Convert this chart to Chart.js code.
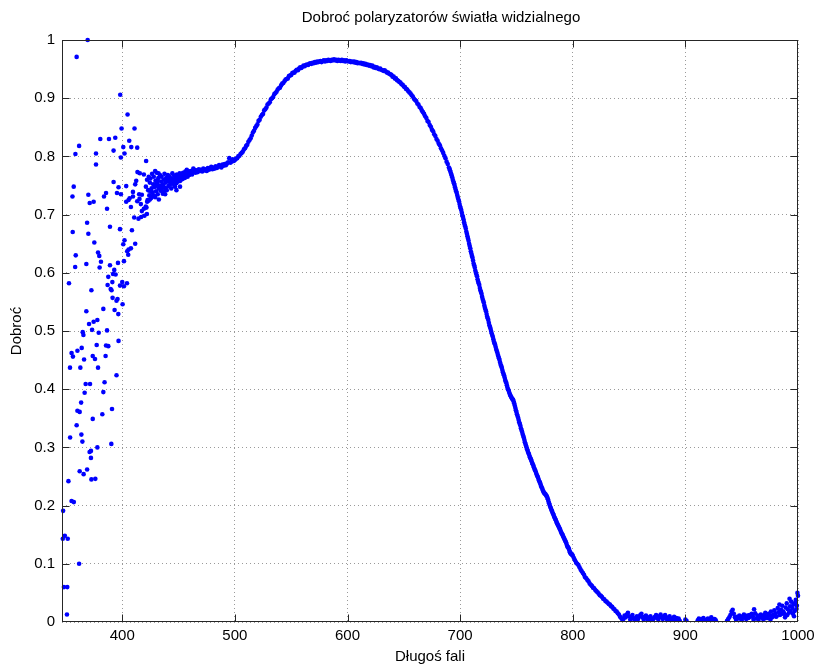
<!DOCTYPE html>
<html>
<head>
<meta charset="utf-8">
<script src="https://cdn.jsdelivr.net/npm/chart.js@4.4.0/dist/chart.umd.min.js"></script>
<style>
  html, body { margin: 0; padding: 0; background: #ffffff; }
  #wrap { width: 814px; height: 664px; }
</style>
</head>
<body>
<div id="wrap"><canvas id="c" width="814" height="664"></canvas></div>
<script>
// Labels
const chartTitle = 'Dobroć polaryzatorów światła widzialnego';
const xTitle = 'Długoś fali';
const yTitle = 'Dobroć';

// Axis ticks
const xTicks = [400, 500, 600, 700, 800, 900, 1000];
const yTicks = [0, 0.1, 0.2, 0.3, 0.4, 0.5, 0.6, 0.7, 0.8, 0.9, 1];
const yTickLabels = ['0', '0.1', '0.2', '0.3', '0.4', '0.5', '0.6', '0.7', '0.8', '0.9', '1'];

// Short-wavelength region: noisy measurements (nm, quality)
const noisyWl = [
  347.2, 347.5, 348.2, 349.0, 350.9, 351.2, 351.6, 352.2, 352.7, 353.6,
  353.7, 355.0, 355.0, 355.8, 356.0, 356.2, 356.9, 357.0, 358.2, 358.4,
  358.7, 359.5, 359.5, 360.2, 360.2, 361.7, 361.7, 362.2, 362.2, 362.8,
  363.5, 363.7, 364.0, 364.6, 364.9, 365.5, 365.7, 366.1, 366.6, 367.5,
  368.1, 368.1, 368.8, 368.8, 369.3, 369.9, 369.9, 370.5, 371.0, 371.1,
  371.4, 372.2, 372.2, 372.6, 372.6, 373.2, 373.8, 373.8, 374.6, 374.6,
  375.2, 375.8, 376.1, 376.7, 376.7, 377.3, 377.9, 377.9, 378.5, 378.5,
  379.1, 379.6, 379.9, 380.5, 381.1, 382.3, 383.2, 383.2, 383.8, 384.3,
  385.2, 385.6, 385.6, 386.5, 386.5, 387.0, 387.6, 387.6, 388.2, 389.1,
  389.1, 389.7, 390.3, 390.5, 390.9, 391.2, 391.4, 391.8, 392.3, 392.3,
  392.9, 393.2, 393.8, 394.1, 394.9, 394.9, 395.3, 395.8, 396.2, 396.5,
  396.7, 396.7, 398.0, 398.0, 398.2, 398.8, 398.8, 399.4, 400.0, 400.3,
  400.9, 400.9, 401.5, 401.5, 402.0, 402.0, 403.5, 403.5, 404.2, 404.4,
  404.7, 405.3, 405.6, 405.6, 406.2, 406.5, 407.7, 407.7, 408.0, 408.6,
  409.5, 409.5, 410.6, 410.9, 411.5, 411.5, 412.4, 413.3, 413.3, 413.5,
  414.4, 415.0, 415.3, 415.6, 416.5, 416.8, 417.4, 417.4, 419.2, 419.2,
  419.7, 420.9, 421.2, 421.9, 422.1, 423.3, 424.2, 424.5, 426.3, 426.3,
  428.6, 429.2, 429.2, 430.4, 431.3, 432.2, 432.5, 434.8, 436.0, 436.6,
  438.1, 438.1, 442.5, 444.0, 445.4, 446.9, 448.1, 449.8, 451.3, 452.8,
  455.8, 457.3, 460.2, 463.1
];
const noisyQ = [
  0.143, 0.191, 0.060, 0.148, 0.013, 0.060, 0.143, 0.242, 0.582, 0.437,
  0.317, 0.208, 0.462, 0.731, 0.670, 0.456, 0.748, 0.206, 0.610, 0.804,
  0.630, 0.338, 0.971, 0.363, 0.466, 0.100, 0.818, 0.259, 0.361, 0.437,
  0.377, 0.322, 0.471, 0.310, 0.498, 0.493, 0.254, 0.451, 0.394, 0.409,
  0.534, 0.615, 0.262, 0.686, 1.000, 0.667, 0.734, 0.512, 0.292, 0.720,
  0.409, 0.282, 0.294, 0.245, 0.570, 0.502, 0.349, 0.457, 0.516, 0.722,
  0.652, 0.452, 0.246, 0.786, 0.805, 0.476, 0.300, 0.519, 0.437, 0.635,
  0.497, 0.629, 0.609, 0.830, 0.619, 0.357, 0.395, 0.538, 0.731, 0.412,
  0.457, 0.475, 0.737, 0.501, 0.710, 0.579, 0.474, 0.593, 0.830, 0.613,
  0.679, 0.572, 0.306, 0.570, 0.366, 0.584, 0.557, 0.598, 0.756, 0.810,
  0.605, 0.536, 0.832, 0.597, 0.424, 0.552, 0.737, 0.555, 0.617, 0.529,
  0.483, 0.747, 0.578, 0.675, 0.906, 0.735, 0.798, 0.848, 0.584, 0.546,
  0.649, 0.816, 0.577, 0.620, 0.656, 0.805, 0.722, 0.749, 0.582, 0.637,
  0.872, 0.631, 0.640, 0.725, 0.827, 0.728, 0.642, 0.713, 0.816, 0.673,
  0.731, 0.739, 0.695, 0.848, 0.650, 0.752, 0.758, 0.723, 0.815, 0.773,
  0.693, 0.735, 0.727, 0.771, 0.718, 0.696, 0.706, 0.734, 0.710, 0.769,
  0.698, 0.714, 0.792, 0.701, 0.722, 0.724, 0.741, 0.726, 0.739, 0.731,
  0.748, 0.730, 0.775, 0.751, 0.759, 0.771, 0.726, 0.743, 0.736, 0.748,
  0.742, 0.735, 0.759, 0.757, 0.754, 0.748, 0.742, 0.765, 0.748, 0.768,
  0.771, 0.777, 0.774, 0.779
];

// Rising band 421-500 nm
const bandWl = [
  421, 421.5, 422, 422.5, 423, 423.5, 424, 424.5, 425, 425.5,
  426, 426.5, 427, 427.5, 428, 428.5, 429, 429.5, 430, 430.5,
  431, 431.5, 432, 432.5, 433, 433.5, 434, 434.5, 435, 435.5,
  436, 436.5, 437, 437.5, 438, 438.5, 439, 439.5, 440, 440.5,
  441, 441.5, 442, 442.5, 443, 443.5, 444, 444.5, 445, 445.5,
  446, 446.5, 447, 447.5, 448, 448.5, 449, 449.5, 450, 450.5,
  451, 451.5, 452, 452.5, 453, 453.5, 454, 454.5, 455, 455.5,
  456, 456.5, 457, 457.5, 458, 458.5, 459, 459.5, 460, 461,
  462, 463, 464, 465, 466, 467, 468, 469, 470, 471,
  472, 473, 474, 475, 476, 477, 478, 479, 480, 481,
  482, 483, 484, 485, 486, 487, 488, 489, 490, 491,
  492, 493, 494, 495, 496, 497, 498, 499, 500
];
const bandQ = [
  0.748, 0.712, 0.760, 0.725, 0.742, 0.765, 0.733, 0.755, 0.762, 0.728,
  0.745, 0.770, 0.737, 0.752, 0.765, 0.732, 0.748, 0.758, 0.740, 0.772,
  0.755, 0.735, 0.763, 0.745, 0.750, 0.768, 0.741, 0.757, 0.765, 0.747,
  0.752, 0.738, 0.760, 0.770, 0.746, 0.755, 0.763, 0.742, 0.757, 0.768,
  0.749, 0.760, 0.766, 0.752, 0.756, 0.745, 0.762, 0.771, 0.753, 0.760,
  0.767, 0.749, 0.759, 0.764, 0.754, 0.769, 0.762, 0.757, 0.766, 0.760,
  0.771, 0.758, 0.763, 0.768, 0.767, 0.761, 0.772, 0.765, 0.768, 0.763,
  0.774, 0.766, 0.769, 0.773, 0.765, 0.771, 0.774, 0.768, 0.771, 0.775,
  0.769, 0.774, 0.777, 0.772, 0.776, 0.773, 0.778, 0.775, 0.777, 0.774,
  0.779, 0.776, 0.778, 0.775, 0.780, 0.777, 0.779, 0.782, 0.778, 0.781,
  0.779, 0.783, 0.780, 0.782, 0.785, 0.783, 0.781, 0.786, 0.784, 0.787,
  0.785, 0.788, 0.790, 0.797, 0.789, 0.791, 0.795, 0.792, 0.794
];

// Main peak and long-wavelength fall-off, 501-844 nm
const curveWl = [
  501, 502, 503, 504, 505, 506, 507, 508, 509, 510,
  511, 512, 513, 514, 515, 516, 517, 518, 519, 520,
  521, 522, 523, 524, 525, 526, 527, 528, 529, 530,
  531, 532, 533, 534, 535, 536, 537, 538, 539, 540,
  541, 542, 543, 544, 545, 546, 547, 548, 549, 550,
  551, 552, 553, 554, 555, 556, 557, 558, 559, 560,
  561, 562, 563, 564, 565, 566, 567, 568, 569, 570,
  571, 572, 573, 574, 575, 576, 577, 578, 579, 580,
  581, 582, 583, 584, 585, 586, 587, 588, 589, 590,
  591, 592, 593, 594, 595, 596, 597, 598, 599, 600,
  601, 602, 603, 604, 605, 606, 607, 608, 609, 610,
  611, 612, 613, 614, 615, 616, 617, 618, 619, 620,
  621, 622, 623, 624, 625, 626, 627, 628, 629, 630,
  631, 632, 633, 634, 635, 636, 637, 638, 639, 640,
  641, 642, 643, 644, 645, 646, 647, 648, 649, 650,
  651, 652, 653, 654, 655, 656, 657, 658, 659, 660,
  661, 662, 663, 664, 665, 666, 667, 668, 669, 670,
  671, 672, 673, 674, 675, 676, 677, 678, 679, 680,
  681, 682, 683, 684, 685, 686, 687, 688, 689, 690,
  691, 692, 693, 694, 695, 696, 697, 698, 699, 700,
  701, 702, 703, 704, 705, 706, 707, 708, 709, 710,
  711, 712, 713, 714, 715, 716, 717, 718, 719, 720,
  721, 722, 723, 724, 725, 726, 727, 728, 729, 730,
  731, 732, 733, 734, 735, 736, 737, 738, 739, 740,
  741, 742, 743, 744, 745, 746, 747, 748, 749, 750,
  751, 752, 753, 754, 755, 756, 757, 758, 759, 760,
  761, 762, 763, 764, 765, 766, 767, 768, 769, 770,
  771, 772, 773, 774, 775, 776, 777, 778, 779, 780,
  781, 782, 783, 784, 785, 786, 787, 788, 789, 790,
  791, 792, 793, 794, 795, 796, 797, 798, 799, 800,
  801, 802, 803, 804, 805, 806, 807, 808, 809, 810,
  811, 812, 813, 814, 815, 816, 817, 818, 819, 820,
  821, 822, 823, 824, 825, 826, 827, 828, 829, 830,
  831, 832, 833, 834, 835, 836, 837, 838, 839, 840,
  841, 842, 843, 844
];
const curveQ = [
  0.796, 0.797, 0.800, 0.801, 0.804, 0.806, 0.808, 0.812, 0.814, 0.818,
  0.820, 0.825, 0.828, 0.831, 0.836, 0.841, 0.844, 0.849, 0.852, 0.855,
  0.861, 0.863, 0.868, 0.871, 0.873, 0.879, 0.881, 0.884, 0.889, 0.891,
  0.893, 0.898, 0.900, 0.902, 0.907, 0.909, 0.911, 0.915, 0.917, 0.918,
  0.922, 0.925, 0.926, 0.929, 0.932, 0.933, 0.934, 0.938, 0.939, 0.940,
  0.943, 0.944, 0.944, 0.947, 0.949, 0.948, 0.951, 0.953, 0.952, 0.954,
  0.956, 0.955, 0.957, 0.958, 0.957, 0.959, 0.960, 0.959, 0.961, 0.960,
  0.962, 0.961, 0.963, 0.962, 0.963, 0.964, 0.962, 0.964, 0.965, 0.963,
  0.965, 0.964, 0.966, 0.965, 0.964, 0.966, 0.965, 0.967, 0.965, 0.966,
  0.964, 0.966, 0.965, 0.964, 0.966, 0.964, 0.965, 0.963, 0.965, 0.964,
  0.963, 0.964, 0.962, 0.963, 0.962, 0.963, 0.961, 0.962, 0.960, 0.961,
  0.960, 0.961, 0.959, 0.960, 0.958, 0.959, 0.957, 0.958, 0.956, 0.957,
  0.955, 0.956, 0.953, 0.954, 0.952, 0.953, 0.951, 0.950, 0.951, 0.949,
  0.948, 0.947, 0.948, 0.946, 0.944, 0.944, 0.942, 0.941, 0.940, 0.937,
  0.937, 0.934, 0.934, 0.931, 0.930, 0.928, 0.927, 0.924, 0.923, 0.920,
  0.919, 0.916, 0.915, 0.912, 0.910, 0.908, 0.905, 0.903, 0.899, 0.897,
  0.895, 0.891, 0.889, 0.885, 0.883, 0.879, 0.876, 0.873, 0.869, 0.866,
  0.861, 0.859, 0.854, 0.851, 0.846, 0.843, 0.838, 0.835, 0.830, 0.827,
  0.822, 0.819, 0.814, 0.810, 0.806, 0.801, 0.797, 0.791, 0.787, 0.781,
  0.776, 0.770, 0.764, 0.757, 0.751, 0.743, 0.737, 0.729, 0.723, 0.714,
  0.708, 0.699, 0.692, 0.683, 0.676, 0.667, 0.659, 0.650, 0.642, 0.633,
  0.626, 0.616, 0.609, 0.600, 0.594, 0.585, 0.579, 0.570, 0.564, 0.555,
  0.549, 0.540, 0.534, 0.525, 0.519, 0.510, 0.504, 0.496, 0.490, 0.482,
  0.477, 0.469, 0.463, 0.456, 0.450, 0.442, 0.437, 0.429, 0.424, 0.416,
  0.411, 0.403, 0.398, 0.392, 0.388, 0.384, 0.382, 0.376, 0.368, 0.361,
  0.354, 0.347, 0.340, 0.333, 0.327, 0.320, 0.313, 0.306, 0.300, 0.294,
  0.289, 0.283, 0.279, 0.273, 0.269, 0.263, 0.259, 0.253, 0.249, 0.243,
  0.239, 0.233, 0.229, 0.224, 0.221, 0.219, 0.216, 0.211, 0.204, 0.198,
  0.193, 0.188, 0.184, 0.179, 0.175, 0.170, 0.166, 0.162, 0.158, 0.153,
  0.150, 0.145, 0.141, 0.137, 0.131, 0.128, 0.123, 0.118, 0.117, 0.114,
  0.110, 0.106, 0.102, 0.100, 0.098, 0.094, 0.090, 0.087, 0.084, 0.081,
  0.077, 0.075, 0.072, 0.070, 0.066, 0.064, 0.062, 0.059, 0.058, 0.055,
  0.053, 0.051, 0.049, 0.046, 0.045, 0.043, 0.040, 0.039, 0.036, 0.035,
  0.033, 0.031, 0.030, 0.027, 0.026, 0.023, 0.022, 0.019, 0.018, 0.015,
  0.013, 0.009, 0.007, 0.004
];

// Extra readings on the steep slope, 690.5-799.5 nm
const slopeWl = [
  690.5, 691.5, 692.5, 693.5, 694.5, 695.5, 696.5, 697.5, 698.5, 699.5,
  700.5, 701.5, 702.5, 703.5, 704.5, 705.5, 706.5, 707.5, 708.5, 709.5,
  710.5, 711.5, 712.5, 713.5, 714.5, 715.5, 716.5, 717.5, 718.5, 719.5,
  720.5, 721.5, 722.5, 723.5, 724.5, 725.5, 726.5, 727.5, 728.5, 729.5,
  730.5, 731.5, 732.5, 733.5, 734.5, 735.5, 736.5, 737.5, 738.5, 739.5,
  740.5, 741.5, 742.5, 743.5, 744.5, 745.5, 746.5, 747.5, 748.5, 749.5,
  750.5, 751.5, 752.5, 753.5, 754.5, 755.5, 756.5, 757.5, 758.5, 759.5,
  760.5, 761.5, 762.5, 763.5, 764.5, 765.5, 766.5, 767.5, 768.5, 769.5,
  770.5, 771.5, 772.5, 773.5, 774.5, 775.5, 776.5, 777.5, 778.5, 779.5,
  780.5, 781.5, 782.5, 783.5, 784.5, 785.5, 786.5, 787.5, 788.5, 789.5,
  790.5, 791.5, 792.5, 793.5, 794.5, 795.5, 796.5, 797.5, 798.5, 799.5
];
const slopeQ = [
  0.779, 0.773, 0.767, 0.760, 0.754, 0.747, 0.740, 0.733, 0.726, 0.718,
  0.711, 0.703, 0.696, 0.687, 0.680, 0.671, 0.663, 0.655, 0.646, 0.637,
  0.629, 0.621, 0.613, 0.604, 0.597, 0.589, 0.582, 0.574, 0.567, 0.559,
  0.552, 0.544, 0.537, 0.529, 0.522, 0.514, 0.507, 0.500, 0.493, 0.486,
  0.479, 0.473, 0.466, 0.459, 0.453, 0.446, 0.440, 0.433, 0.426, 0.420,
  0.413, 0.407, 0.400, 0.395, 0.390, 0.386, 0.383, 0.379, 0.372, 0.364,
  0.357, 0.351, 0.343, 0.337, 0.330, 0.323, 0.317, 0.309, 0.303, 0.297,
  0.291, 0.286, 0.281, 0.276, 0.271, 0.266, 0.261, 0.256, 0.251, 0.246,
  0.241, 0.236, 0.231, 0.226, 0.222, 0.220, 0.217, 0.213, 0.207, 0.201,
  0.196, 0.191, 0.186, 0.181, 0.177, 0.172, 0.168, 0.164, 0.160, 0.155,
  0.151, 0.147, 0.143, 0.139, 0.134, 0.129, 0.126, 0.120, 0.117, 0.115
];

// Near-infrared tail, 845-1000 nm
const tailWl = [
  845, 846, 847, 848, 849, 850, 851, 852, 853, 854,
  855, 856, 857, 858, 859, 860, 861, 862, 863, 864,
  865, 866, 867, 868, 869, 870, 871, 872, 873, 874,
  875, 876, 877, 878, 879, 880, 881, 882, 883, 884,
  885, 886, 887, 888, 889, 890, 891, 892, 893, 894,
  895, 900, 901, 911, 912, 913, 914, 915, 916, 917,
  918, 919, 920, 921, 922, 923, 924, 925, 926, 927,
  937, 938, 939, 940, 941, 942, 943, 944, 945, 946,
  947, 948, 949, 950, 951, 952, 953, 954, 955, 956,
  957, 958, 959, 960, 961, 962, 963, 964, 965, 966,
  967, 968, 969, 970, 971, 972, 973, 974, 975, 976,
  977, 978, 979, 980, 981, 982, 983, 984, 985, 986,
  987, 988, 989, 990, 991, 992, 993, 994, 995, 996,
  997, 998, 999, 1000, 983.5, 988.5, 990.5, 992.5, 995.5, 996.5,
  997.5, 998.5, 999.5, 970.5, 975.5, 980.5, 985.5, 993.5, 950.5, 960.5
];
const tailQ = [
  0.005, 0.011, 0.008, 0.013, 0.016, 0.010, 0.004, 0.008, 0.012, 0.006,
  0.002, 0.007, 0.010, 0.005, 0.009, 0.012, 0.014, 0.008, 0.004, 0.009,
  0.011, 0.006, 0.003, 0.008, 0.010, 0.005, 0.002, 0.006, 0.009, 0.012,
  0.007, 0.004, 0.010, 0.013, 0.008, 0.005, 0.009, 0.012, 0.007, 0.003,
  0.008, 0.010, 0.005, 0.002, 0.006, 0.009, 0.004, 0.007, 0.003, 0.006,
  0.002, 0.004, 0.002, 0.003, 0.006, 0.004, 0.002, 0.005, 0.007, 0.003,
  0.001, 0.004, 0.006, 0.003, 0.005, 0.008, 0.004, 0.002, 0.005, 0.003,
  0.002, 0.005, 0.008, 0.012, 0.018, 0.021, 0.014, 0.008, 0.004, 0.009,
  0.006, 0.011, 0.007, 0.003, 0.010, 0.013, 0.008, 0.005, 0.011, 0.007,
  0.012, 0.009, 0.014, 0.010, 0.022, 0.015, 0.006, 0.011, 0.004, 0.008,
  0.013, 0.009, 0.005, 0.012, 0.016, 0.010, 0.007, 0.014, 0.011, 0.018,
  0.008, 0.013, 0.020, 0.015, 0.010, 0.024, 0.017, 0.012, 0.021, 0.028,
  0.018, 0.014, 0.025, 0.032, 0.022, 0.016, 0.027, 0.035, 0.024, 0.030,
  0.019, 0.038, 0.028, 0.045, 0.030, 0.008, 0.012, 0.040, 0.014, 0.010,
  0.033, 0.022, 0.050, 0.006, 0.004, 0.009, 0.014, 0.019, 0.007, 0.004
];

const FONT = '"Liberation Sans", Arial, Helvetica, sans-serif';
const segments = [
  [noisyWl, noisyQ], [bandWl, bandQ], [curveWl, curveQ], [slopeWl, slopeQ], [tailWl, tailQ]
];
const points = [];
segments.forEach(([wl, q]) => wl.forEach((x, i) => points.push({ x: x, y: q[i] })));

// Title is centred over the axes box rather than the whole canvas
const titleOverAxes = {
  id: 'titleOverAxes',
  afterLayout(chart) {
    const t = chart.titleBlock;
    if (!t) return;
    const centre = 441;
    const half = 400;
    t.left = centre - half;
    t.right = centre + half;
  }
};

// Box around the axes with inward tick marks on all four sides
const axesBox = {
  id: 'axesBox',
  afterDatasetsDraw(chart) {
    const { ctx, chartArea: a, scales: { x, y } } = chart;
    const L = Math.round(a.left) + 0.5, R = Math.round(a.right) - 0.5;
    const T = Math.round(a.top) + 0.5, B = Math.round(a.bottom) - 0.5;
    const len = 7;
    ctx.save();
    ctx.lineWidth = 1;
    ctx.strokeStyle = '#262626';
    ctx.strokeRect(L, T, R - L, B - T);
    ctx.beginPath();
    xTicks.forEach(v => {
      const px = Math.round(x.getPixelForValue(v)) + 0.5;
      if (px > R - 1) return;
      ctx.moveTo(px, B); ctx.lineTo(px, B - len);
      ctx.moveTo(px, T); ctx.lineTo(px, T + len);
    });
    yTicks.forEach(v => {
      const py = Math.round(y.getPixelForValue(v)) + 0.5;
      if (py < T + 1 || py > B - 1) return;
      ctx.moveTo(L, py); ctx.lineTo(L + len, py);
      ctx.moveTo(R, py); ctx.lineTo(R - len, py);
    });
    ctx.stroke();
    ctx.restore();
  }
};

new Chart(document.getElementById('c'), {
  type: 'scatter',
  data: {
    datasets: [{
      data: points,
      pointRadius: 2.3,
      pointHoverRadius: 2.3,
      pointBackgroundColor: '#0000ff',
      pointBorderWidth: 0,
      showLine: false,
      clip: { left: 3, top: 3, right: 3, bottom: 0 }
    }]
  },
  options: {
    responsive: false,
    animation: false,
    devicePixelRatio: 1,
    events: [],
    layout: { padding: { left: 0, right: 16, top: 0, bottom: 0 } },
    plugins: {
      legend: { display: false },
      tooltip: { enabled: false },
      title: {
        display: true,
        text: chartTitle,
        color: '#000000',
        font: { family: FONT, size: 15, weight: 'normal', lineHeight: 1.2 },
        padding: { top: 9, bottom: 13 }
      }
    },
    scales: {
      x: {
        type: 'linear',
        min: 346.5,
        max: 1000,
        afterBuildTicks: s => { s.ticks = xTicks.map(v => ({ value: v })); },
        afterFit: s => { s.height = 42; s.paddingRight = 0; s.paddingLeft = 0; },
        ticks: {
          color: '#000000',
          font: { family: FONT, size: 15 },
          padding: 5,
          maxRotation: 0,
          autoSkip: false,
          callback: v => String(v)
        },
        grid: { color: '#9a9a9a', lineWidth: 1, drawTicks: false },
        border: { display: false, dash: [1, 3] },
        title: {
          display: true,
          text: xTitle,
          color: '#000000',
          font: { family: FONT, size: 15, lineHeight: 1 },
          padding: { top: 0, bottom: 0 }
        }
      },
      y: {
        type: 'linear',
        min: 0,
        max: 1,
        afterBuildTicks: s => { s.ticks = yTicks.map(v => ({ value: v })); },
        afterFit: s => { s.width = 62; },
        ticks: {
          color: '#000000',
          font: { family: FONT, size: 15 },
          padding: 7,
          autoSkip: false,
          callback: v => yTickLabels[yTicks.indexOf(v)]
        },
        grid: { color: '#9a9a9a', lineWidth: 1, drawTicks: false },
        border: { display: false, dash: [1, 3] },
        title: {
          display: true,
          text: yTitle,
          color: '#000000',
          font: { family: FONT, size: 15, lineHeight: 1.2 },
          padding: { top: 8, bottom: 0 }
        }
      }
    }
  },
  plugins: [titleOverAxes, axesBox]
});
</script>
</body>
</html>
